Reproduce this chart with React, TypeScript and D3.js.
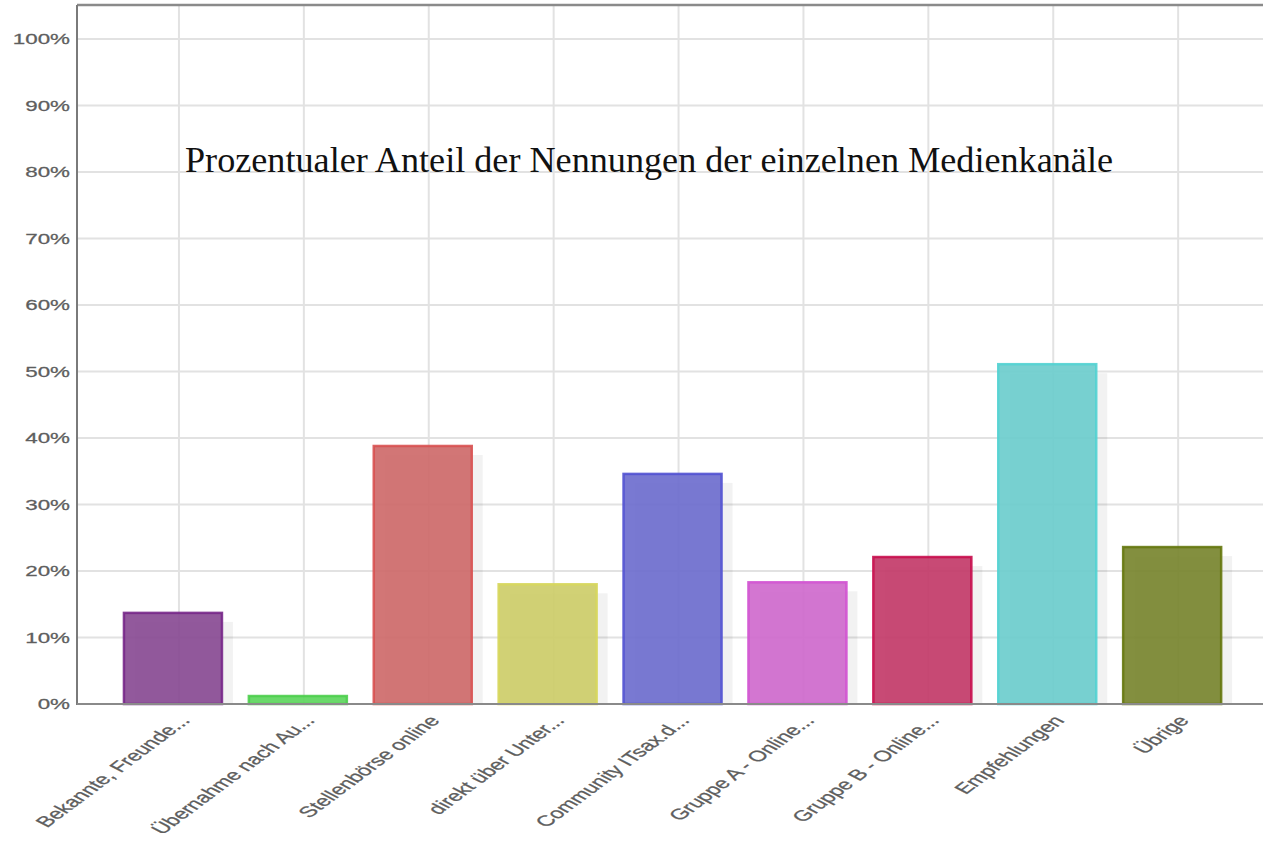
import React from 'react'
import * as d3 from 'd3'

const WIDTH = 1263
const HEIGHT = 843

const TITLE = 'Prozentualer Anteil der Nennungen der einzelnen Medienkanäle'

const categories = [
  'Bekannte, Freunde...',
  'Übernahme nach Au...',
  'Stellenbörse online',
  'direkt über Unter...',
  'Community ITsax.d...',
  'Gruppe A - Online...',
  'Gruppe B - Online...',
  'Empfehlungen',
  'Übrige',
]
const values = [13.7, 1.2, 38.8, 18.0, 34.6, 18.3, 22.1, 51.1, 23.6]
const fills = ['#8a4c95', '#5fd65f', '#cf6c6c', '#cece6a', '#6f6fcf', '#d06cce', '#c43c6a', '#6ecece', '#7a8630']
const strokes = ['#78288a', '#4ece4e', '#d85252', '#d6d65a', '#5252d2', '#d252d2', '#c80e4e', '#52d2d2', '#667810']
const yTicks = [0, 10, 20, 30, 40, 50, 60, 70, 80, 90, 100]

// plot frame
const LEFT = 77
const TOP = 5
const BASE = 704
const TEXT_STRETCH = 1.6

export default function App() {
  const y = d3.scaleLinear().domain([0, 100]).range([BASE, 39])
  const x = d3.scaleBand<string>()
    .domain(categories)
    .range([116.5, 116.5 + 124.9 * categories.length])
  const step = x.bandwidth()
  const cx = (c: string) => (x(c) as number) + step / 2
  const barW = 98

  return (
    <svg width={WIDTH} height={HEIGHT} style={{ position: 'absolute', left: 0, top: 0, background: '#fff' }}>
      {/* grid */}
      <g stroke="#e2e2e2" strokeWidth={2}>
        {yTicks.map((t) => (
          <line key={'h' + t} x1={LEFT} x2={WIDTH} y1={y(t)} y2={y(t)} />
        ))}
        {categories.map((c) => (
          <line key={'v' + c} x1={cx(c)} x2={cx(c)} y1={TOP} y2={BASE} />
        ))}
      </g>

      {/* bars with shadow */}
      {categories.map((c, i) => {
        const bx = cx(c) - 6 - barW / 2
        const by = y(values[i])
        return (
          <g key={'b' + c}>
            <rect x={bx + 11} y={by + 9} width={barW} height={Math.max(0, BASE - by - 9)} fill="rgba(0,0,0,0.05)" />
            <rect x={bx} y={by} width={barW} height={BASE - by} fill={fills[i]} fillOpacity={0.93}
              stroke={strokes[i]} strokeWidth={2.5} strokeOpacity={0.9} />
          </g>
        )
      })}

      {/* axes frame */}
      <line x1={LEFT} x2={WIDTH} y1={TOP} y2={TOP} stroke="#8a8a8a" strokeWidth={2.5} />
      <line x1={LEFT} x2={LEFT} y1={TOP} y2={BASE + 1} stroke="#7a7a7a" strokeWidth={2} />
      <line x1={LEFT} x2={WIDTH} y1={BASE} y2={BASE} stroke="#8a8a8a" strokeWidth={2} />

      {/* y tick labels */}
      <g fill="#5e5e5e" stroke="#5e5e5e" strokeWidth={0.25} fontFamily="Liberation Sans, Arial, sans-serif" fontSize={14}>
        {yTicks.map((t) => (
          <text key={'yl' + t} transform={`translate(70,${y(t) + 5}) scale(${TEXT_STRETCH},1)`} textAnchor="end">
            {t + '%'}
          </text>
        ))}
      </g>

      {/* x tick labels */}
      <g fill="#5e5e5e" stroke="#5e5e5e" strokeWidth={0.25} fontFamily="Liberation Sans, Arial, sans-serif" fontSize={15}>
        {categories.map((c) => (
          <text key={'xl' + c}
            transform={`translate(${cx(c) + 12},${BASE + 17}) scale(${TEXT_STRETCH},1) rotate(-50)`}
            textAnchor="end">
            {c}
          </text>
        ))}
      </g>

      {/* title */}
      <text x={649} y={172} textAnchor="middle" fontFamily="Liberation Serif, serif" fontSize={35}
        fill="#111" textLength={928} lengthAdjust="spacingAndGlyphs">
        {TITLE}
      </text>
    </svg>
  )
}
